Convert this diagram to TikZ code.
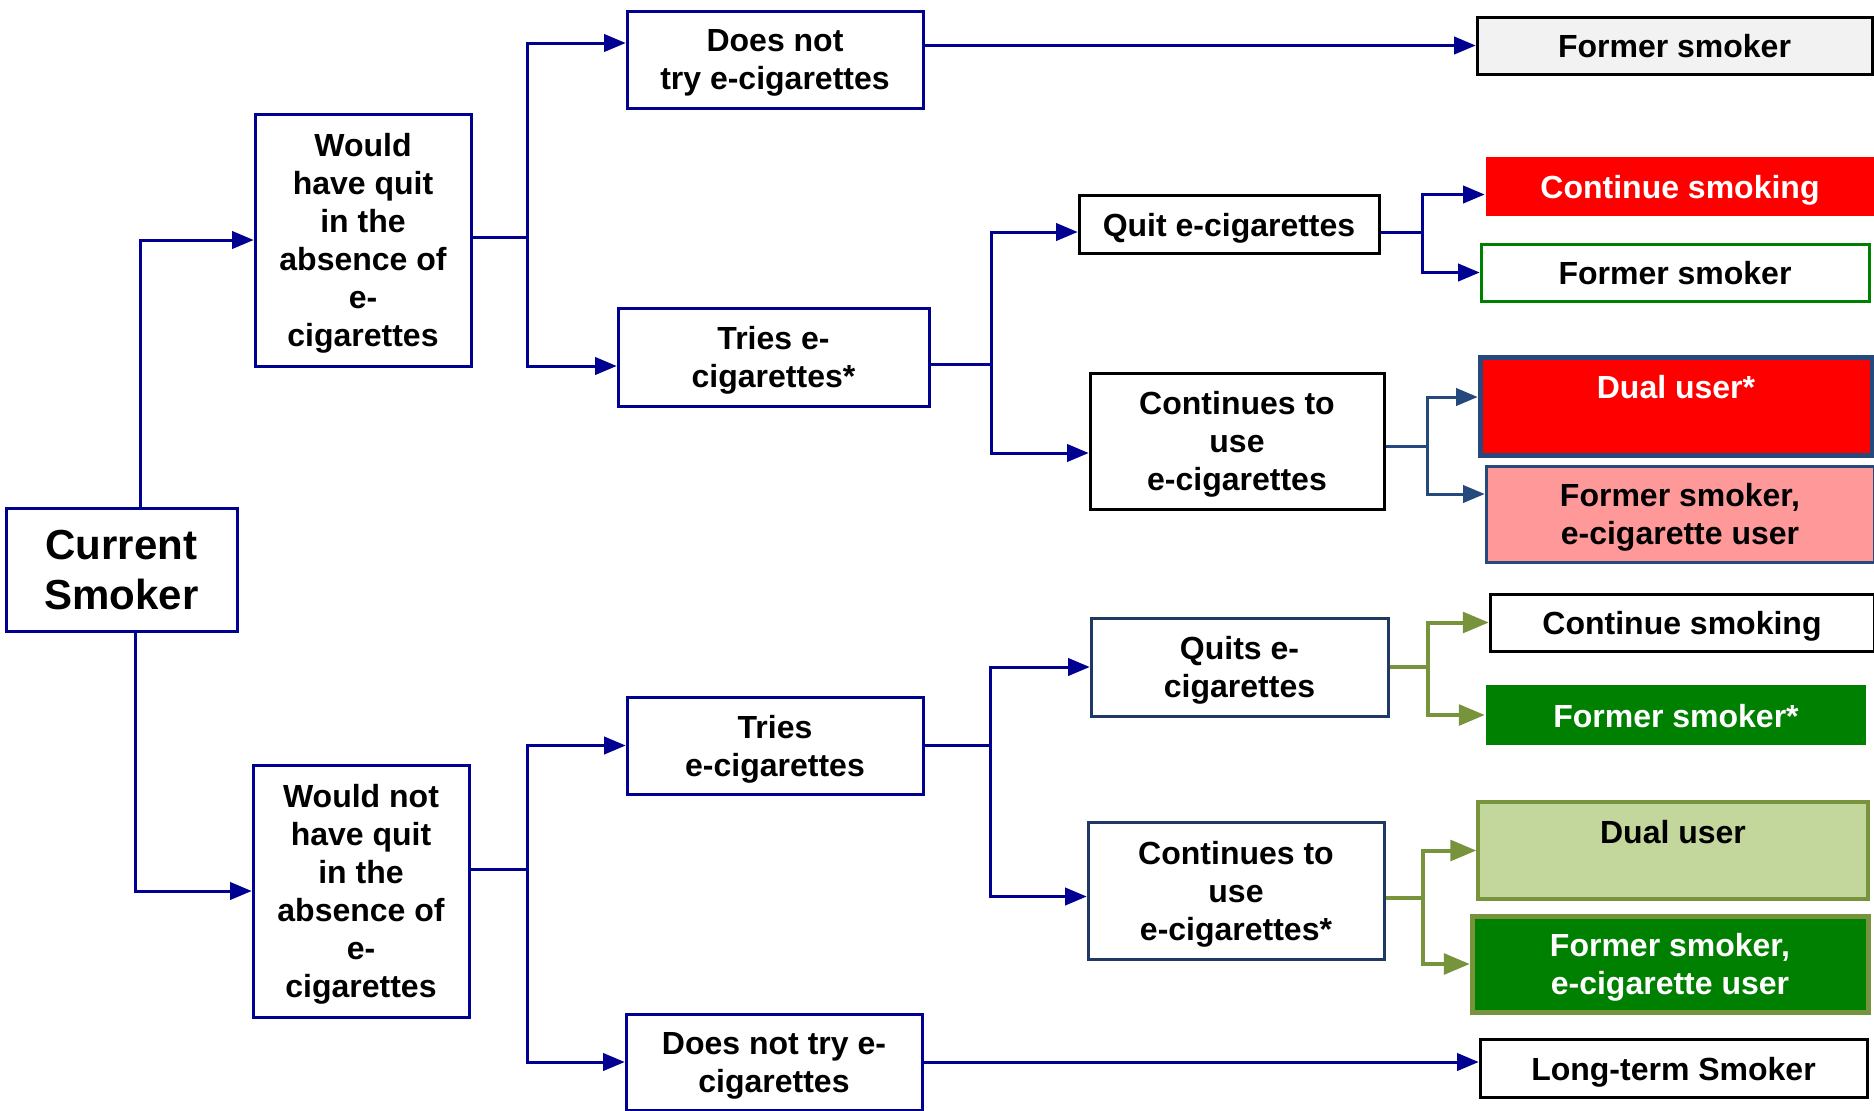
\documentclass[tikz,border=0pt]{standalone}
\usepackage{fontspec}
\setmainfont{Liberation Sans}
\usetikzlibrary{arrows}

\definecolor{navy}{RGB}{0,0,145}
\definecolor{slate}{RGB}{31,56,100}
\definecolor{steel}{RGB}{37,73,125}
\definecolor{olive}{RGB}{119,147,60}
\definecolor{leaf}{RGB}{0,128,0}
\definecolor{pale}{RGB}{195,214,155}
\definecolor{rose}{RGB}{255,153,153}
\definecolor{mist}{RGB}{242,242,242}

\tikzset{
  box/.style={draw=navy, line width=1.5pt, fill=white, align=center, inner sep=0pt,
    font=\fontsize{16}{19}\selectfont\bfseries, text depth=-0.2pt,
    execute at begin node={\rule{0pt}{0.975em}}},
  oneline/.style={box, text depth=3.4pt},
  link/.style={draw=navy, line width=1.5pt},
  arr/.style={link, arrows={-triangle 45}},
}

\begin{document}
\begin{tikzpicture}[x=0.5pt, y=-0.5pt]
\useasboundingbox (0,0) rectangle (1874,1110);

\node[box, font=\fontsize{21}{25}\selectfont\bfseries, minimum width=115.5pt, minimum height=61.5pt] (smoker) at (121.5,569.5) {Current\\Smoker};

\node[box, minimum width=108pt, minimum height=126pt] (quit) at (363,240) {Would\\have quit\\in the\\absence of\\e-\\cigarettes};
\node[box, minimum width=108pt, minimum height=126pt] (noquit) at (361,891) {Would not\\have quit\\in the\\absence of\\e-\\cigarettes};

\node[box, minimum width=148pt, minimum height=48.5pt] (notry1) at (775,59.5) {Does not\\try e-cigarettes};
\node[box, minimum width=155.5pt, minimum height=49pt] (tries1) at (773.5,357) {Tries e-\\cigarettes*};
\node[box, minimum width=148pt, minimum height=48.5pt] (tries2) at (775,745.5) {Tries\\e-cigarettes};
\node[box, minimum width=148pt, minimum height=48pt] (notry2) at (774,1062) {Does not try e-\\cigarettes};

\node[oneline, draw=black, minimum width=150pt, minimum height=29pt] (quitec) at (1229,224) {Quit e-cigarettes};
\node[box, draw=black, minimum width=147pt, minimum height=68pt] (useec1) at (1237,441) {Continues to\\use\\e-cigarettes};
\node[box, draw=slate, minimum width=148.5pt, minimum height=49pt] (quitsec) at (1239.5,667) {Quits e-\\cigarettes};
\node[box, draw=slate, minimum width=148pt, minimum height=68.5pt] (useec2) at (1236,890.5) {Continues to\\use\\e-cigarettes*};

% outcomes
\node[oneline, draw=black, fill=mist, minimum width=197.5pt, minimum height=28.5pt] (former1) at (1674.5,45.5) {Former smoker};
\node[oneline, draw=none, fill=red, text=white, minimum width=194pt, minimum height=29.5pt] (cont1) at (1680,186.5) {Continue smoking};
\node[oneline, draw=leaf, minimum width=194pt, minimum height=28.5pt] (former2) at (1675,272.5) {Former smoker};
\node[box, draw=steel, line width=2.5pt, fill=red, text=white, minimum width=196pt, minimum height=49pt] (dual1) at (1676,406) {Dual user*\\ \mbox{}};
\node[box, draw=steel, fill=rose, minimum width=194pt, minimum height=48pt] (vaper1) at (1680,514) {Former smoker,\\e-cigarette user};
\node[oneline, draw=black, minimum width=192pt, minimum height=28.5pt] (cont2) at (1682,622.5) {Continue smoking};
\node[oneline, draw=none, fill=leaf, text=white, minimum width=190pt, minimum height=30pt] (former3) at (1676,715) {Former smoker*};
\node[box, draw=olive, line width=2pt, fill=pale, minimum width=195pt, minimum height=48.5pt] (dual2) at (1673,850.5) {Dual user\\ \mbox{}};
\node[box, draw=olive, line width=2.5pt, fill=leaf, text=white, minimum width=198pt, minimum height=48pt] (vaper2) at (1670,964) {Former smoker,\\e-cigarette user};
\node[oneline, draw=black, minimum width=193.5pt, minimum height=29pt] (longterm) at (1673.5,1068) {Long-term Smoker};

% current smoker
\draw[arr] ([xshift=9.25pt]smoker.north) |- (quit.west);
\draw[arr] ([xshift=6.75pt]smoker.south) |- (noquit.west);

% would have quit
\coordinate (j1) at (527,237);
\draw[link] ([yshift=1.5pt]quit.east) -- (j1);
\draw[arr] (j1) |- ([yshift=8.25pt]notry1.west);
\draw[arr] (j1) |- ([yshift=-4.5pt]tries1.west);
\draw[arr] (notry1.east |- former1.west) -- (former1.west);

\coordinate (j2) at (991,364.5);
\draw[link] ([yshift=-3.75pt]tries1.east) -- (j2);
\draw[arr] (j2) |- ([yshift=-4pt]quitec.west);
\draw[arr] (j2) |- ([yshift=-6pt]useec1.west);

\coordinate (j3) at (1422,232);
\draw[link] ([yshift=-4pt]quitec.east) -- (j3);
\draw[arr] (j3) |- ([yshift=-4pt]cont1.west);
\draw[arr] (j3) |- (former2.west);

\coordinate (j4) at (1427,446);
\draw[link, draw=steel] ([yshift=-2.5pt]useec1.east) -- (j4);
\draw[arr, draw=steel] (j4) |- ([yshift=4.5pt]dual1.west);
\draw[arr, draw=steel] (j4) |- ([yshift=10pt]vaper1.west);

% would not have quit
\coordinate (j5) at (527,869);
\draw[link] ([yshift=11pt]noquit.east) -- (j5);
\draw[arr] (j5) |- (tries2.west);
\draw[arr] (j5) |- (notry2.west);
\draw[arr] (notry2.east) -- (notry2.east -| longterm.west);

\coordinate (j6) at (990,745.5);
\draw[link] (tries2.east) -- (j6);
\draw[arr] (j6) |- (quitsec.west);
\draw[arr] (j6) |- ([yshift=-3pt]useec2.west);

\coordinate (j7) at (1428,667);
\draw[link, draw=olive, line width=2pt] (quitsec.east) -- (j7);
\draw[arr, draw=olive, line width=2pt] (j7) |- (cont2.west);
\draw[arr, draw=olive, line width=2pt] (j7) |- (former3.west);

\coordinate (j8) at (1423,897.5);
\draw[link, draw=olive, line width=2pt] ([yshift=-3.5pt]useec2.east) -- (j8);
\draw[arr, draw=olive, line width=2pt] (j8) |- (dual2.west);
\draw[arr, draw=olive, line width=2pt] (j8) |- (vaper2.west);

\end{tikzpicture}
\end{document}
